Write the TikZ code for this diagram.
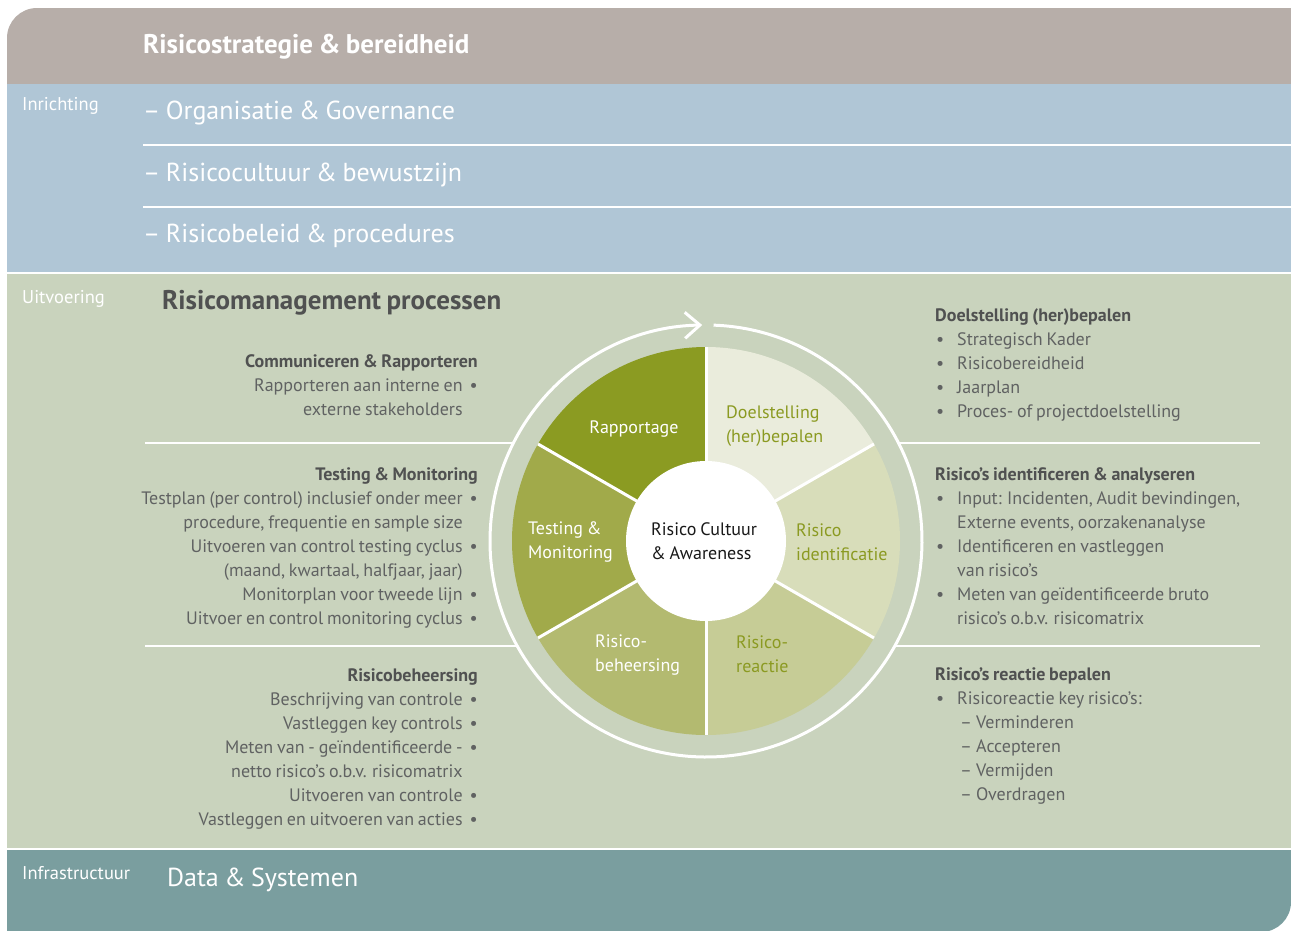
\documentclass[tikz,border=0pt]{standalone}
\usepackage{fontspec}
\setmainfont{PT Sans}[WordSpace=0.8]
\usetikzlibrary{arrows.meta}

\definecolor{bandbrown}{HTML}{B7AEA9}
\definecolor{bandblue}{HTML}{B0C6D6}
\definecolor{bandgreen}{HTML}{C9D3BD}
\definecolor{bandteal}{HTML}{7A9E9F}
\definecolor{olive}{HTML}{8B9A22}
\definecolor{secrap}{HTML}{8B9B22}
\definecolor{sectest}{HTML}{A1AA4A}
\definecolor{secbeh}{HTML}{B3BA70}
\definecolor{secreac}{HTML}{C6CC96}
\definecolor{secident}{HTML}{D8DDBA}
\definecolor{secdoel}{HTML}{EAECDC}
\definecolor{textgray}{HTML}{606262}
\definecolor{headgray}{HTML}{505151}

% bullet lines, left side (bullet behind the text) and right side (bullet in front)
\newcommand{\lb}[1]{#1\hspace{7pt}\textbullet}
\newcommand{\lc}[1]{#1\hspace{7pt}\phantom{\textbullet}}
\newcommand{\rb}[1]{\hspace*{1pt}\makebox[21pt][l]{\textbullet}#1}
\newcommand{\rc}[1]{\hspace*{22pt}#1}
\newcommand{\rd}[1]{\hspace*{25pt}\makebox[16pt][l]{–}#1}

\begin{document}
\begin{tikzpicture}[x=1pt, y=-1pt,
    bandtitle/.style={anchor=west, text=white, inner sep=0pt, font=\fontsize{26}{32}\selectfont},
    bandlabel/.style={anchor=west, text=white, inner sep=0pt, font=\fontsize{18.5}{21}\selectfont},
    infol/.style={anchor=north east, align=right, text=textgray, inner sep=0pt, font=\fontsize{18}{24}\selectfont},
    infor/.style={anchor=north west, align=left, text=textgray, inner sep=0pt, font=\fontsize{18}{24}\selectfont},
    sector/.style={align=left, inner sep=0pt, font=\fontsize{18}{24}\selectfont},
    sep/.style={white, line width=2pt}]
    \useasboundingbox (0,0) rectangle (1291,930);

    % Bands
    \fill[bandbrown] (7,84) -- (7,38) arc[start angle=180, end angle=270, radius=30] -- (1291,8) -- (1291,84) -- cycle;
    \fill[bandblue] (7,84) rectangle (1291,273);
    \fill[bandgreen] (7,273) rectangle (1291,849);
    \fill[bandteal] (7,849) -- (1291,849) -- (1291,902) arc[start angle=0, end angle=90, radius=30] -- (7,932) -- cycle;

    % Separators
    \draw[sep] (143,145) -- (1291,145);
    \draw[sep] (143,207) -- (1291,207);
    \draw[sep] (7,273) -- (1291,273);
    \draw[sep] (7,849) -- (1291,849);
    \draw[sep] (145,443) -- (1260,443);
    \draw[sep] (145,646) -- (1260,646);

    % Band texts
    \node[bandtitle, font=\bfseries\fontsize{27}{30}\selectfont] (strat) at (143,47) {Risicostrategie \& bereidheid};
    \node[bandlabel] (inr) at (22,106) {Inrichting};
    \node[bandtitle] (org) at (143,113) {– Organisatie \& Governance};
    \node[bandtitle] (cult) at (143,175) {– Risicocultuur \& bewustzijn};
    \node[bandtitle] (beleid) at (143,236) {– Risicobeleid \& procedures};
    \node[bandlabel] (uitv) at (22,299) {Uitvoering};
    \node[bandtitle, text=headgray, font=\bfseries\fontsize{27}{30}\selectfont] (proc) at (162,303) {Risicomanagement processen};
    \node[bandlabel] (infra) at (22,873) {Infrastructuur};
    \node[bandtitle] (data) at (167,880) {Data \& Systemen};

    % Cycle
    \begin{scope}[shift={(706,541)}, yscale=-1]
        \fill[bandgreen] (0,0) circle[radius=216];
        \draw[white, line width=3pt, -{Straight Barb[length=15pt, width=26pt]}] (88:216) arc[start angle=88, end angle=-269, radius=216];
        \foreach \a/\c in {-90/secreac, -30/secident, 30/secdoel, 90/secrap, 150/sectest, 210/secbeh}
            \fill[\c] (0,0) -- (\a:194) arc[start angle=\a, end angle=\a+60, radius=194] -- cycle;
        \foreach \a in {-90,-30,...,210}
            \draw[white, line width=3pt] (0,0) -- (\a:194);
        \fill[white] (0,0) circle[radius=80];
    \end{scope}

    % Sector labels
    \node[sector, text=white, anchor=center] (srap) at (634,429) {Rapportage};
    \node[sector, text=olive, anchor=west] (sdoel) at (726,426) {Doelstelling\\(her)bepalen};
    \node[sector, text=olive, anchor=west] (sident) at (796,542) {Risico\\identificatie};
    \node[sector, text=olive, anchor=west] (sreac) at (736,654) {Risico-\\reactie};
    \node[sector, text=white, anchor=west] (sbeh) at (595,655) {Risico-\\beheersing};
    \node[sector, text=white, anchor=west] (stest) at (528,542) {Testing \&\\Monitoring};
    \node[sector, text=black!90, anchor=west] (core) at (651,541) {Risico Cultuur\\\& Awareness};

    % Left column
    \node[infol] (comm) at (478,354) {\textcolor{headgray}{\bfseries Communiceren \& Rapporteren}\\
        \lb{Rapporteren aan interne en}\\
        \lc{externe stakeholders}};
    \node[infol] (test) at (478,467) {\textcolor{headgray}{\bfseries Testing \& Monitoring}\\
        \lb{Testplan (per control) inclusief onder meer}\\
        \lc{procedure, frequentie en sample size}\\
        \lb{Uitvoeren van control testing cyclus}\\
        \lc{(maand, kwartaal, halfjaar, jaar)}\\
        \lb{Monitorplan voor tweede lijn}\\
        \lb{Uitvoer en control monitoring cyclus}};
    \node[infol] (beh) at (478,668) {\textcolor{headgray}{\bfseries Risicobeheersing}\\
        \lb{Beschrijving van controle}\\
        \lb{Vastleggen key controls}\\
        \lb{Meten van - geïndentificeerde -}\\
        \lc{netto risico's o.b.v. risicomatrix}\\
        \lb{Uitvoeren van controle}\\
        \lb{Vastleggen en uitvoeren van acties}};

    % Right column
    \node[infor] (doel) at (935,308) {\textcolor{headgray}{\bfseries Doelstelling (her)bepalen}\\
        \rb{Strategisch Kader}\\
        \rb{Risicobereidheid}\\
        \rb{Jaarplan}\\
        \rb{Proces- of projectdoelstelling}};
    \node[infor] (ident) at (935,467) {\textcolor{headgray}{\bfseries Risico's identificeren \& analyseren}\\
        \rb{Input: Incidenten, Audit bevindingen,}\\
        \rc{Externe events, oorzakenanalyse}\\
        \rb{Identificeren en vastleggen}\\
        \rc{van risico's}\\
        \rb{Meten van geïdentificeerde bruto}\\
        \rc{risico's o.b.v. risicomatrix}};
    \node[infor] (react) at (935,667) {\textcolor{headgray}{\bfseries Risico's reactie bepalen}\\
        \rb{Risicoreactie key risico's:}\\
        \rd{Verminderen}\\
        \rd{Accepteren}\\
        \rd{Vermijden}\\
        \rd{Overdragen}};
\end{tikzpicture}
\end{document}
